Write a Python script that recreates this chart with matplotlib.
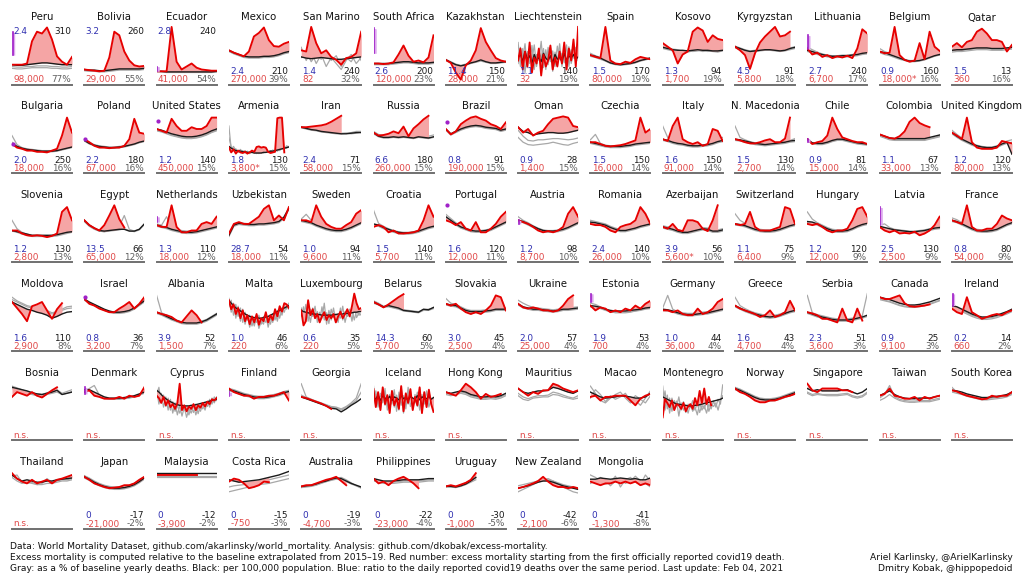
import numpy as np
import matplotlib
matplotlib.use("Agg")
import matplotlib.pyplot as plt

countries = ["Peru","Bolivia","Ecuador","Mexico","San Marino","South Africa","Kazakhstan","Liechtenstein","Spain","Kosovo","Kyrgyzstan","Lithuania","Belgium","Qatar",
"Bulgaria","Poland","United States","Armenia","Iran","Russia","Brazil","Oman","Czechia","Italy","N. Macedonia","Chile","Colombia","United Kingdom",
"Slovenia","Egypt","Netherlands","Uzbekistan","Sweden","Croatia","Portugal","Austria","Romania","Azerbaijan","Switzerland","Hungary","Latvia","France",
"Moldova","Israel","Albania","Malta","Luxembourg","Belarus","Slovakia","Ukraine","Estonia","Germany","Greece","Serbia","Canada","Ireland",
"Bosnia","Denmark","Cyprus","Finland","Georgia","Iceland","Hong Kong","Mauritius","Macao","Montenegro","Norway","Singapore","Taiwan","South Korea",
"Thailand","Japan","Malaysia","Costa Rica","Australia","Philippines","Uruguay","New Zealand","Mongolia"]

blue_txt = ["2.4","3.2","2.8","2.4","1.4","2.6","11.4","1.1","1.5","1.3","4.5","2.7","0.9","1.5",
"2.0","2.2","1.2","1.8","2.4","6.6","0.8","0.9","1.5","1.6","1.5","0.9","1.1","1.2",
"1.2","13.5","1.3","28.7","1.0","1.5","1.6","1.2","2.4","3.9","1.1","1.2","2.5","0.8",
"1.6","0.8","3.9","1.0","0.6","14.3","3.0","2.0","1.9","1.0","1.6","2.3","0.9","0.2",
"","","","","","","","","","","","","","",
"","0","0","0","0","0","0","0","0"]
black_txt = ["310","260","240","210","240","200","150","140","170","94","91","240","160","13",
"250","180","140","130","71","180","91","28","150","150","130","81","67","120",
"130","66","110","54","94","140","120","98","140","56","75","120","130","80",
"110","36","52","46","35","60","45","57","53","44","43","51","25","14",
"","","","","","","","","","","","","","",
"","-17","-12","-15","-19","-22","-30","-42","-41"]
red_txt = ["98,000","29,000","41,000","270,000","82","120,000","28,000","32","80,000","1,700","5,800","6,700","18,000*","360",
"18,000","67,000","450,000","3,800*","58,000","260,000","190,000","1,400","16,000","91,000","2,700","15,000","33,000","80,000",
"2,800","65,000","18,000","18,000","9,600","5,700","12,000","8,700","26,000","5,600*","6,400","12,000","2,500","54,000",
"2,900","3,200","1,500","220","220","5,700","2,500","25,000","700","36,000","4,700","3,600","9,100","660",
"n.s.","n.s.","n.s.","n.s.","n.s.","n.s.","n.s.","n.s.","n.s.","n.s.","n.s.","n.s.","n.s.","n.s.",
"n.s.","-21,000","-3,900","-750","-4,700","-23,000","-1,000","-2,100","-1,300"]
gray_txt = ["77%","55%","54%","39%","32%","23%","21%","19%","19%","19%","18%","17%","16%","16%",
"16%","16%","15%","15%","15%","15%","15%","15%","14%","14%","14%","14%","13%","13%",
"13%","12%","12%","11%","11%","11%","11%","10%","10%","10%","9%","9%","9%","9%",
"8%","7%","7%","6%","5%","5%","4%","4%","4%","4%","4%","3%","3%","2%",
"","","","","","","","","","","","","","",
"","-2%","-2%","-3%","-3%","-4%","-5%","-6%","-8%"]
top_labels = ["Peru", "Bolivia", "Ecuador"]

# weekly/monthly death curves (as share of panel height), 2020 in red, baseline black, past years gray
red = {
"Peru":[33,33,33,35,72,88,85,95,75,47,38,33,46],
"Bolivia":[25,24,23,22,23,45,88,82,55,40,32,30,31],
"Ecuador":[22,22,22,96,38,25,30,35,28,25,24,23,23],
"Mexico":[57,53,50,47,55,80,86,95,74,64,63,68,71],
"San Marino":[57,55,96,69,52,57,46,41,33,44,46,52,88],
"South Africa":[35,35,34,35,37,50,65,48,38,40,37,45,82],
"Kazakhstan":[41,36,20,8,32,40,57,94,71,57,44,40,38],
"Liechtenstein":[40,60,25,55,30,70,20,45,35,60,15,50,30,40,65,25,45,30,55,35,70,25,60,40,75,30,96],
"Spain":[49,46,44,96,40,35,34,38,36,42,46,44,42],
"Kosovo":[69,63,57,35,50,55,88,95,90,71,82,76,74],
"Kyrgyzstan":[63,57,49,26,52,70,80,88,96,80,82,88],
"Lithuania":[60,50,53,46,49,44,47,45,48,44,60,92,85],
"Belgium":[55,52,53,96,49,41,38,40,69,42,88,63,56],
"Qatar":[63,69,62,71,74,88,93,85,74,74,71,55,66],
"Bulgaria":[49,43,41,38,38,36,36,35,38,41,63,93,68],
"Poland":[57,52,46,43,43,42,43,43,46,57,91,68,66],
"United States":[74,71,68,91,79,71,71,77,74,74,79,93,93],
"Armenia":[43,35,40,33,38,35,34,36,33,35,38,36,44,45,43,44,43,36,34,35,36,92,93,93,35],
"Iran":[77,77,78,79,80,82,86,91,96],
"Russia":[68,63,64,66,70,67,78,62,75,82,90,96],
"Brazil":[74,65,70,82,88,93,95,91,88,82,79,74,85],
"Oman":[77,68,74,63,68,71,82,91,93,95,93,79,77],
"Czechia":[52,52,49,46,45,46,47,49,52,55,93,68,74],
"Italy":[57,54,79,93,57,52,49,52,46,49,74,71,54],
"N. Macedonia":[57,55,52,50,50,52,55,57,52,52,58,93],
"Chile":[57,49,52,54,63,93,74,60,57,54,52,52,49],
"Colombia":[65,62,59,58,62,70,86,93,84,80,77],
"United Kingdom":[68,63,57,93,52,43,41,41,41,43,54,52,50],
"Slovenia":[53,53,48,45,44,45,44,42,44,48,84,92,70],
"Egypt":[70,62,57,53,62,78,95,72,58],
"Netherlands":[62,59,59,95,59,50,50,53,53,64,67,64,76],
"Uzbekistan":[48,64,67,64,64,70,76,89,95,70,78,70,92],
"Sweden":[70,70,67,95,76,64,59,56,56,62,67,81,87],
"Croatia":[59,62,59,50,53,48,48,49,50,53,70,95,76],
"Portugal":[70,67,62,67,56,53,67,50,50,56,64,76,84],
"Austria":[70,67,64,59,53,50,52,50,53,59,81,92,76],
"Romania":[64,62,62,59,53,50,59,62,64,70,92,81,64],
"Azerbaijan":[59,56,64,54,52,70,70,67,56,52,70,95],
"Switzerland":[64,62,64,84,59,53,53,53,56,59,92,89,64],
"Hungary":[64,62,64,59,53,50,53,53,56,70,89,92,76],
"Latvia":[59,53,50,53,48,49,48,51,45,48,53,62,76],
"France":[70,67,64,95,59,53,53,56,56,64,78,73,70],
"Moldova":[82,72,62,50,75,78,82,68,54,70,80],
"Israel":[87,79,76,71,68,65,65,71,76,82,71,79,90],
"Albania":[65,62,60,57,51,48,58,68,60,48],
"Malta":[85,70,78,62,72,55,68,50,60,45,58,48,62,44,55,50,65,48,60,52,70,58,75,66,80,78,72],
"Luxembourg":[68,43,50,85,60,70,55,62,48,58,65,52,60,55,62,48,58,66,55,62,70,58,75,96,80,70,72],
"Belarus":[82,78,73,78,84,90,95],
"Slovakia":[79,76,79,71,65,62,65,62,68,76,93,90,68],
"Ukraine":[79,73,71,73,71,68,68,66,68,76,87,93],
"Estonia":[76,68,73,71,65,68,65,71,68,76,71,79,84],
"Germany":[68,68,65,68,62,60,60,71,62,65,71,82,87],
"Greece":[76,71,68,65,62,57,60,68,57,60,65,84,68],
"Serbia":[65,63,60,54,54,51,48,71,51,48,71,51],
"Canada":[90,87,87,90,93,80,75,74,75,76,78],
"Ireland":[71,65,62,90,65,60,54,57,60,62,60,65,68],
"Bosnia":[72,80,77,74,80,74,71,77,83,88],
"Denmark":[80,83,74,72,69,69,69,72,69,74,72,74,88],
"Cyprus":[74,70,62,72,58,66,55,60,52,62,94,50,58,48,56,52,60,50,58,54,62,56,64,60,68,66,70],
"Finland":[86,80,77,74,74,69,72,72,74,74,77,80,66],
"Georgia":[72,70,67,64,61,57,52],
"Iceland":[85,55,80,50,88,60,75,45,82,58,70,52,90,48,78,62,85,50,72,58,88,45,80,55,84,60,47],
"Hong Kong":[80,77,74,83,94,88,80,69,77,72,74,77],
"Mauritius":[86,80,74,80,77,83,83,94,91,86,83,80,83],
"Macao":[72,74,66,72,72,74,74,74,66,58,69,74,77],
"Montenegro":[38,68,62,55,66,50,60,58,52,62,48,56,60,52,70,58,82,62,86,60,72,58],
"Norway":[86,80,77,72,66,63,63,66,66,69,72,74,77],
"Singapore":[94,83,80,86,86,86,86,83,83,80],
"Taiwan":[74,77,86,74,72,69,69,72,66,72,69,72,74],
"South Korea":[83,81,77,74,72,70,68,69,74,72,74,74,80],
"Thailand":[93,84,79,76,82,76,79,82,76,82,84,87,90],
"Japan":[87,82,76,73,70,68,69,70,73,73,76,82,87],
"Malaysia":[90,90,90,90,90,90,90,90,90],
"Costa Rica":[79,84,82,76,68,70,73,79,78],
"Australia":[71,73,73,76,79,82,84,87,80,73],
"Philippines":[84,76,79,73,80,84,87,82,76,68],
"Uruguay":[71,73,71,74,77,82,93],
"New Zealand":[68,70,73,76,80,87,79,73,70,70,68,70,68],
"Mongolia":[79,76,73,76,76,79,76,79,76,79,73,76,73],
}

base = {
"Peru":[33,32,32,33,34,35,36,36,35,34,33,33,33],
"Bolivia":[25,24,24,23,23,24,25,26,26,26,26,26,27],
"Ecuador":[22,22,21,21,21,21,21,21,21,21,21,21,22],
"Mexico":[57,53,50,47,46,46,46,47,47,48,50,53,55],
"San Marino":[46,44,43,44,45,44,43,42,42,43,44,45,46],
"South Africa":[35,35,35,35,36,37,38,38,37,36,36,36,37],
"Kazakhstan":[41,37,33,31,33,36,38,41,38,36,36,37,38],
"Liechtenstein":[45,50,38,55,42,48,35,50,40,45,38,52,44,40,48,36,50,42,46,38,52,40,48,44,50,42,46],
"Spain":[49,47,44,40,36,34,33,34,35,37,40,42,44],
"Kosovo":[62,60,58,57,57,56,57,58,57,57,56,56,57],
"Kyrgyzstan":[63,60,57,55,56,57,58,58,57,56,57,60,62],
"Lithuania":[57,55,52,50,48,47,47,48,48,49,50,52,53],
"Belgium":[55,53,50,47,44,41,39,39,40,42,45,48,50],
"Qatar":[57,58,58,59,60,61,61,61,60,60,60,61,62],
"Bulgaria":[49,45,42,40,39,38,37,37,37,38,40,42,44],
"Poland":[55,50,47,45,44,43,43,44,45,47,49,52,54],
"United States":[74,72,69,66,64,62,61,61,62,64,67,71,74],
"Armenia":[45,42,40,38,38,37,36,36,35,35,35,34,34,34,34,35,35,36,37,37,38,39,40,41,42,43,44],
"Iran":[77,75,73,72,70,69,68,67,66,66,67,68,68],
"Russia":[68,62,60,60,61,60,61,60,59,61,60,59,61],
"Brazil":[74,66,70,74,77,79,80,79,77,76,75,72,74],
"Oman":[77,70,68,64,66,67,68,68,67,67,68,70,72],
"Czechia":[52,50,48,46,45,45,45,46,47,49,50,51,52],
"Italy":[57,55,52,50,49,47,46,46,47,48,50,53,55],
"N. Macedonia":[57,56,54,52,50,49,48,49,50,51,52,54,55],
"Chile":[57,51,50,50,52,55,57,57,55,53,51,50,49],
"Colombia":[65,62,59,58,58,58,58,58,58,58,60,62,64],
"United Kingdom":[68,62,57,53,49,46,44,43,43,45,49,52,32],
"Slovenia":[53,51,49,47,45,45,45,45,45,46,48,50,51],
"Egypt":[70,62,57,53,52,53,54,55,55,52,52,55,64],
"Netherlands":[62,60,58,55,53,51,50,50,51,53,55,57,59],
"Uzbekistan":[45,62,65,64,63,63,64,64,65,66,68,75,90],
"Sweden":[70,68,66,62,59,56,54,53,53,55,58,62,66],
"Croatia":[64,62,58,55,52,50,49,49,50,52,55,58,60],
"Portugal":[76,70,64,59,56,53,52,52,53,55,59,63,67],
"Austria":[70,68,64,60,56,53,52,52,53,55,58,62,66],
"Romania":[67,66,64,62,58,55,53,53,55,57,60,62,64],
"Azerbaijan":[59,57,55,52,50,50,52,54,56,55,52,52,54],
"Switzerland":[64,63,61,58,55,53,52,52,53,55,58,61,63],
"Hungary":[68,67,64,60,56,53,52,52,53,56,60,63,65],
"Latvia":[60,58,56,54,53,52,51,51,52,53,55,57,58],
"France":[70,68,64,60,56,53,52,52,53,55,59,63,66],
"Moldova":[82,78,74,70,68,65,63,60,55,58,62,65,66],
"Israel":[87,82,78,74,70,67,65,65,66,68,72,78,84],
"Albania":[65,62,58,54,51,48,47,47,47,49,52,57,62],
"Malta":[84,80,76,72,70,67,65,62,60,58,57,56,56,55,55,56,57,58,60,62,64,66,68,70,72,74,76],
"Luxembourg":[68,66,65,64,63,62,62,61,61,60,60,60,60,60,61,61,62,62,62,63,63,64,64,65,65,66,66],
"Belarus":[82,78,74,76,74,72,68,67,66,65,70,69,73],
"Slovakia":[79,77,76,72,68,66,66,66,67,68,70,70,70],
"Ukraine":[79,74,72,70,70,69,68,67,68,70,70,71,72],
"Estonia":[76,75,73,70,68,67,67,67,68,69,70,72,73],
"Germany":[70,69,67,64,62,61,61,62,63,64,66,68,70],
"Greece":[76,72,68,65,62,60,58,57,58,60,63,66,68],
"Serbia":[65,62,59,57,55,53,52,52,52,53,55,57,60],
"Canada":[90,88,86,83,80,78,77,77,78,80,82,85,88],
"Ireland":[76,74,70,66,62,59,57,57,58,60,63,66,70],
"Bosnia":[88,86,84,82,79,77,76,78,80,83,76,78,80],
"Denmark":[84,84,80,76,72,70,70,70,71,72,74,77,80],
"Cyprus":[83,80,76,72,69,66,64,62,60,59,58,58,57,57,57,58,58,59,60,61,62,63,64,65,66,67,68],
"Finland":[84,82,79,76,74,72,71,71,72,74,76,79,81],
"Georgia":[72,69,66,63,60,57,53,52,47,52,58,63,69],
"Iceland":[72,68,75,66,74,70,68,73,66,72,70,67,74,69,71,66,73,70,68,74,67,72,70,69,73,68,71],
"Hong Kong":[80,78,80,82,80,76,74,72,72,73,72,74,78],
"Mauritius":[86,80,78,80,82,82,83,88,86,83,80,78,82],
"Macao":[80,76,72,70,71,72,74,73,72,70,70,72,78],
"Montenegro":[72,70,68,66,64,62,60,60,59,58,58,57,57,57,58,58,59,60,61,62,63,64,65,66,67,68,70],
"Norway":[86,83,79,75,71,68,67,67,68,70,73,76,79],
"Singapore":[86,82,84,82,82,82,82,83,84,80,77,80,86],
"Taiwan":[74,78,82,76,72,70,69,69,70,70,70,72,74],
"South Korea":[83,82,80,77,75,73,71,71,72,73,74,76,80],
"Thailand":[90,84,80,82,80,78,78,80,80,82,83,84,85],
"Japan":[87,83,78,74,71,69,68,68,69,71,74,79,85],
"Malaysia":[94,94,94,94,94,94,94,94,94,94,94,94,94],
"Costa Rica":[82,80,78,79,80,81,82,84,86,88,90,93,96],
"Australia":[71,72,73,75,78,80,83,85,84,80,76,73,70],
"Philippines":[84,82,80,80,80,81,82,82,82,82,83,84,84],
"Uruguay":[71,71,70,72,75,80,86],
"New Zealand":[68,70,72,75,78,80,80,78,75,72,70,68,66],
"Mongolia":[83,83,85,84,83,84,85,84,83,84,82,82,85],
}

gray_a = {
"Peru":[27,26,26,27,28,28,28,28,27,27,26,26,27],
"Bolivia":[23,22,22,21,21,22,23,24,24,24,24,24,25],
"Ecuador":[21,21,20,20,20,20,20,20,20,20,20,20,21],
"Mexico":[55,51,48,45,44,44,44,45,45,46,48,51,53],
"San Marino":[62,40,55,35,50,30,45,35,25,40,50,35,45],
"South Africa":[33,33,33,33,34,35,36,36,35,34,34,34,35],
"Kazakhstan":[40,36,33,31,32,35,37,39,37,35,35,36,37],
"Liechtenstein":[70,30,60,20,55,35,65,25,50,40,72,28,58,33,62,22,54,38,68,30,57,26,63,35,52,40,48],
"Spain":[52,48,45,41,37,35,34,35,36,38,41,43,45],
"Kosovo":[64,61,59,58,55,57,55,56,58,55,57,55,58],
"Kyrgyzstan":[61,58,56,54,55,56,57,57,56,55,56,58,60],
"Lithuania":[62,58,54,51,49,48,48,49,49,50,51,53,55],
"Belgium":[60,55,52,48,45,42,40,40,41,43,46,49,52],
"Qatar":[54,55,55,56,57,58,58,58,57,57,57,58,59],
"Bulgaria":[63,48,43,41,40,39,38,38,38,39,41,43,45],
"Poland":[58,52,48,46,45,44,44,45,46,48,50,53,55],
"United States":[71,69,66,63,61,59,58,58,59,61,64,68,71],
"Armenia":[79,40,45,38,36,40,35,38,33,36,35,37,33,36,34,37,35,36,38,36,39,37,41,40,43,42,45],
"Iran":[76,74,72,71,69,68,67,66,66,67,68,70,70],
"Russia":[70,65,63,63,64,63,64,63,62,63,62,62,64],
"Brazil":[72,64,68,72,75,77,78,77,75,74,73,70,72],
"Oman":[72,62,55,54,56,56,57,58,58,57,56,57,59],
"Czechia":[56,65,50,47,46,46,46,47,48,50,52,53,54],
"Italy":[79,60,55,51,49,47,46,46,47,49,52,56,60],
"N. Macedonia":[79,60,56,53,51,50,49,50,51,52,53,55,58],
"Chile":[55,49,48,48,50,53,55,55,53,51,49,48,47],
"Colombia":[62,59,56,55,55,55,55,55,55,55,57,59,61],
"United Kingdom":[72,65,59,54,50,47,45,44,44,46,50,54,56],
"Slovenia":[70,56,50,47,45,44,44,44,45,46,48,51,53],
"Egypt":[68,60,55,52,51,53,55,60,78,55,52,55,63],
"Netherlands":[64,62,76,57,55,53,52,52,53,55,57,59,61],
"Uzbekistan":[43,60,63,62,61,61,62,62,63,64,66,73,88],
"Sweden":[72,80,70,64,60,57,55,54,54,56,59,63,67],
"Croatia":[87,65,60,56,53,51,50,50,51,53,56,59,62],
"Portugal":[80,73,66,60,57,54,53,53,54,56,60,64,69],
"Austria":[76,70,66,61,57,54,53,53,54,56,59,63,67],
"Romania":[70,68,66,64,60,57,55,55,57,59,62,64,66],
"Azerbaijan":[61,59,57,54,52,52,54,56,58,57,54,54,56],
"Switzerland":[81,70,65,60,57,55,54,54,55,57,60,63,65],
"Hungary":[84,72,66,62,58,55,54,54,55,58,62,65,67],
"Latvia":[62,64,58,55,54,53,52,52,53,54,56,58,60],
"France":[74,71,66,62,58,55,54,54,55,57,61,65,68],
"Moldova":[90,84,80,76,74,72,70,68,64,66,70,74,75],
"Israel":[85,80,76,72,68,65,63,63,64,66,70,76,82],
"Albania":[93,64,60,56,52,49,48,48,48,50,53,58,63],
"Malta":[88,65,80,55,75,50,70,45,60,40,55,42,58,38,50,45,62,40,55,48,65,50,70,60,75,70,80],
"Luxembourg":[72,55,78,50,70,58,75,48,65,55,80,45,68,52,72,50,60,55,75,48,65,58,70,52,68,60,62],
"Belarus":[84,80,75,75,73,71,69,68,67,66,69,70,72],
"Slovakia":[88,80,78,74,70,68,68,68,69,70,72,72,72],
"Ukraine":[85,80,76,73,72,71,70,69,70,72,72,73,74],
"Estonia":[80,78,74,70,66,64,64,64,65,67,69,71,73],
"Germany":[72,93,70,66,64,63,63,64,65,66,68,70,72],
"Greece":[90,76,71,67,64,62,60,59,60,62,65,68,70],
"Serbia":[93,64,61,59,57,55,54,54,54,55,57,59,96],
"Canada":[86,84,82,79,76,74,73,73,74,76,78,81,84],
"Ireland":[74,72,68,64,60,57,55,55,56,58,61,64,68],
"Bosnia":[86,83,80,78,76,74,73,76,78,80,76,78,81],
"Denmark":[82,86,91,75,71,69,69,69,70,71,73,76,79],
"Cyprus":[85,60,78,55,72,50,68,45,62,42,58,40,55,38,52,45,58,42,55,48,60,50,65,55,70,62,72],
"Finland":[86,84,81,78,76,74,73,73,74,76,78,81,83],
"Georgia":[94,72,68,65,62,59,56,55,52,56,62,70,94],
"Iceland":[90,60,78,52,85,58,70,48,80,55,75,50,88,45,72,60,82,52,76,56,86,48,78,58,80,62,70],
"Hong Kong":[76,74,76,78,76,72,70,68,68,69,68,70,74],
"Mauritius":[78,72,69,72,74,74,75,80,78,75,72,70,74],
"Macao":[90,78,66,62,70,76,80,70,62,66,58,70,82],
"Montenegro":[90,50,75,45,70,55,65,40,62,50,58,45,60,48,55,42,62,50,58,45,60,52,65,55,68,60,92],
"Norway":[88,85,81,77,73,70,69,69,70,72,75,78,81],
"Singapore":[80,76,78,76,76,76,76,77,78,74,72,74,80],
"Taiwan":[70,76,91,72,68,66,65,65,66,66,66,68,70],
"South Korea":[88,80,78,75,73,71,69,69,70,71,72,74,78],
"Thailand":[88,90,78,76,78,74,76,84,78,80,82,82,84],
"Japan":[89,85,80,76,73,71,70,70,71,73,76,81,87],
"Malaysia":[88,88,88,88,88,88,88,88,88,88,88,88,88],
"Costa Rica":[62,64,66,68,70,72,74,75,76,78,80,82,84],
"Australia":[69,70,71,73,76,79,82,84,86,82,77,72,68],
"Philippines":[82,80,78,78,78,79,80,80,80,80,81,82,82],
"Uruguay":[70,70,69,71,74,78,82],
"New Zealand":[62,66,70,74,78,82,84,80,75,70,66,62,60],
"Mongolia":[90,86,80,75,78,88,70,82,86,78,74,90,80],
}

gray_b = {
"Peru":[30,29,29,30,30,31,31,31,30,30,29,29,30],
"Bolivia":[24,23,23,22,22,23,24,25,25,25,25,25,26],
"Ecuador":[22,21,21,21,21,21,21,21,21,21,21,21,21],
"Mexico":[56,52,49,46,45,45,45,46,46,47,49,52,54],
"San Marino":[45,55,38,50,42,55,40,48,30,45,38,52,40],
"South Africa":[34,34,34,34,35,36,37,37,36,35,35,35,36],
"Kazakhstan":[42,38,34,32,34,37,39,42,39,37,37,38,39],
"Liechtenstein":[35,62,42,68,28,58,40,66,30,55,45,60,25,62,38,56,30,64,42,52,36,66,30,58,44,62,40],
"Spain":[47,45,42,39,35,33,32,33,34,36,39,41,43],
"Kosovo":[60,58,56,55,56,54,56,57,55,56,55,54,56],
"Kyrgyzstan":[64,61,58,56,57,58,59,59,58,57,58,61,63],
"Lithuania":[55,53,50,48,46,45,45,46,46,47,48,50,51],
"Belgium":[53,50,48,45,42,40,38,38,39,41,44,47,49],
"Qatar":[56,57,57,58,59,60,60,60,59,59,59,60,61],
"Bulgaria":[52,46,41,39,38,37,36,36,36,37,39,41,43],
"Poland":[54,49,46,44,43,42,42,43,44,46,48,51,53],
"United States":[72,70,67,64,62,60,59,59,60,62,65,69,72],
"Armenia":[60,44,38,41,35,37,38,34,37,33,36,34,36,33,37,34,36,35,36,39,37,40,38,42,41,46,44],
"Iran":[78,76,74,73,71,70,69,68,67,67,66,67,69],
"Russia":[66,61,59,59,60,59,60,59,58,60,59,58,60],
"Brazil":[73,65,69,73,76,78,79,78,76,75,74,71,73],
"Oman":[60,52,48,47,48,49,50,52,50,48,47,50,52],
"Czechia":[50,48,46,44,43,43,43,44,45,47,48,49,50],
"Italy":[55,53,50,48,47,45,44,44,45,46,48,51,53],
"N. Macedonia":[55,54,52,50,48,47,46,47,48,49,50,52,53],
"Chile":[56,50,49,49,51,54,56,56,54,52,50,49,48],
"Colombia":[63,60,57,56,56,56,56,56,56,56,58,60,62],
"United Kingdom":[66,60,55,51,47,44,42,41,41,43,47,50,52],
"Slovenia":[52,50,47,45,43,43,43,43,43,44,46,48,50],
"Egypt":[69,61,56,52,51,52,53,54,56,53,51,54,63],
"Netherlands":[60,58,56,53,51,49,48,48,49,51,53,55,57],
"Uzbekistan":[46,63,66,65,64,64,65,65,66,67,69,76,90],
"Sweden":[68,66,64,60,57,54,52,51,51,53,56,60,64],
"Croatia":[62,60,56,53,50,48,47,47,48,50,53,56,58],
"Portugal":[74,68,62,57,54,51,50,50,51,53,57,61,65],
"Austria":[68,66,62,58,54,51,50,50,51,53,56,60,64],
"Romania":[65,64,62,60,56,53,51,51,53,55,58,60,62],
"Azerbaijan":[57,55,53,50,48,48,50,52,54,53,50,50,52],
"Switzerland":[62,61,59,56,53,51,50,50,51,53,56,59,61],
"Hungary":[66,65,62,58,54,51,50,50,51,54,58,61,63],
"Latvia":[58,56,54,52,51,50,49,49,50,51,53,55,56],
"France":[68,66,62,58,54,51,50,50,51,53,57,61,64],
"Moldova":[86,82,78,74,72,70,68,66,62,64,68,71,72],
"Israel":[86,81,77,73,69,66,64,64,65,67,71,77,83],
"Albania":[63,60,56,52,49,46,45,45,45,47,50,55,60],
"Malta":[75,85,60,78,58,72,48,65,52,60,42,55,48,60,45,58,48,55,45,62,52,68,55,72,65,78,70],
"Luxembourg":[58,74,52,68,48,72,55,66,50,74,52,64,46,70,56,62,48,72,52,66,58,70,50,74,56,64,60],
"Belarus":[80,77,73,74,72,70,67,66,65,64,68,68,71],
"Slovakia":[77,75,74,70,66,64,64,64,65,66,68,68,68],
"Ukraine":[77,72,70,68,68,67,66,65,66,68,68,69,70],
"Estonia":[74,73,71,68,66,65,65,65,66,67,68,70,71],
"Germany":[68,67,65,62,60,59,59,60,61,62,64,66,68],
"Greece":[74,70,66,63,60,58,56,55,56,58,61,64,66],
"Serbia":[63,60,57,55,53,51,50,50,50,51,53,55,58],
"Canada":[87,85,83,80,77,75,74,74,75,77,79,82,85],
"Ireland":[72,70,66,62,58,55,53,53,54,56,59,62,66],
"Bosnia":[90,87,84,81,79,77,76,79,81,84,78,81,84],
"Denmark":[83,82,78,74,70,68,68,68,69,70,72,75,78],
"Cyprus":[70,88,62,75,56,70,50,64,48,58,45,55,50,52,42,56,46,60,44,58,52,62,56,68,60,72,66],
"Finland":[82,80,77,74,72,70,69,69,70,72,74,77,79],
"Georgia":[75,71,68,64,61,58,55,54,50,55,60,66,80],
"Iceland":[60,82,55,78,62,86,50,76,60,84,48,80,58,74,52,88,56,70,62,80,50,76,60,82,55,70,65],
"Hong Kong":[78,76,78,80,78,74,72,70,70,71,70,72,76],
"Mauritius":[74,68,66,70,71,72,72,76,75,72,70,68,70],
"Macao":[70,84,76,64,74,68,72,78,66,74,68,62,74],
"Montenegro":[60,82,52,70,48,66,56,72,50,64,46,60,54,66,50,62,46,58,52,64,48,60,56,62,50,66,74],
"Norway":[84,81,77,73,69,66,65,65,66,68,71,74,77],
"Singapore":[78,74,76,75,74,74,74,75,76,72,70,72,78],
"Taiwan":[66,70,76,70,66,64,63,63,64,64,64,66,68],
"South Korea":[80,78,76,73,71,69,67,67,68,69,70,72,76],
"Thailand":[86,80,76,78,76,74,74,76,76,78,80,80,82],
"Japan":[85,81,76,72,69,67,66,66,67,69,72,77,83],
"Malaysia":[86,86,86,86,86,86,86,86,86,86,86,86,86],
"Costa Rica":[70,72,73,74,75,76,78,80,82,84,86,88,90],
"Australia":[70,71,72,74,77,79,81,83,82,79,75,72,69],
"Philippines":[80,78,76,76,76,77,78,78,78,78,79,80,80],
"Uruguay":[72,72,71,73,77,81,85],
"New Zealand":[72,74,76,78,80,83,82,80,77,74,72,70,68],
"Mongolia":[76,80,86,82,72,80,84,76,80,88,80,76,70],
}

# reported covid-19 death marks at start (low, high)
purple = {
"Peru":(49,88),"Ecuador":(22,30),"South Africa":(52,94),"Lithuania":(60,82),
"Bulgaria":(49,49),"Poland":(57,57),"United States":(88,88),"Brazil":(85,85),
"Chile":(52,57),"Netherlands":(67,76),"Portugal":(95,95),"Austria":(64,70),
"Latvia":(62,92),"Israel":(90,90),"Estonia":(82,96),"Ireland":(76,96),
"Denmark":(77,88),"Finland":(74,80),
}
grid_n = {"Uruguay": 13}

footer_left = [
"Data: World Mortality Dataset, github.com/akarlinsky/world_mortality. Analysis: github.com/dkobak/excess-mortality.",
"Excess mortality is computed relative to the baseline extrapolated from 2015\u201319. Red number: excess mortality starting from the first officially reported covid19 death.",
"Gray: as a % of baseline yearly deaths. Black: per 100,000 population. Blue: ratio to the daily reported covid19 deaths over the same period. Last update: Feb 04, 2021",
]
footer_right = ["Ariel Karlinsky, @ArielKarlinsky", "Dmitry Kobak, @hippopedoid"]

W, H = 1024, 576
fig = plt.figure(figsize=(W / 100, H / 100), dpi=100)
fig.patch.set_facecolor("white")

C_RED = "#e60000"
C_FILL = "#f5a5a5"
C_BLUE = "#2f2fb0"
C_REDTXT = "#e04848"
C_GRAYTXT = "#606060"
C_BLK = "#1a1a1a"
C_GRAY = "#a8a8a8"
C_PURP = "#a020c8"
C_PURPF = "#dca8ec"

ncol = 14
pw, ph = 60, 60
for i, c in enumerate(countries):
    r, col = divmod(i, ncol)
    L = 12 + col * 72.3
    sp = 84.5 + r * 88.9
    ax = fig.add_axes([L / W, 1 - sp / H, pw / W, ph / H])
    ax.set_xlim(0, 1)
    ax.set_ylim(0, 100)
    ax.set_xticks([]); ax.set_yticks([])
    ax.patch.set_alpha(0)
    for s in ["top", "left", "right"]:
        ax.spines[s].set_visible(False)
    ax.spines["bottom"].set_color("#707070")
    ax.spines["bottom"].set_linewidth(1.4)

    b = base[c]
    n = grid_n.get(c, len(b))
    x = np.linspace(0, 1, n)
    for g in (gray_a[c], gray_b[c]):
        m = min(len(g), n)
        ax.plot(x[:m], g[:m], color=C_GRAY, lw=0.9, zorder=1)
    rd = red[c]
    m = min(len(rd), len(b), n)
    ax.fill_between(x[:m], rd[:m], b[:m], color=C_FILL, lw=0, zorder=2)
    mb = min(len(b), n)
    ax.plot(x[:mb], b[:mb], color=C_BLK, lw=1.0, zorder=3)
    ax.plot(x[:m], rd[:m], color=C_RED, lw=1.35, zorder=4)
    if c in purple:
        lo, hi = purple[c]
        if hi - lo < 1:
            ax.plot([0.015], [lo], "o", ms=2, color=C_PURP, zorder=5, clip_on=False)
        else:
            ax.fill_between([0.0, 0.045], [lo, lo], [hi, hi * 0.97 + lo * 0.03], color=C_PURPF, lw=0, zorder=5)
            ax.plot([0.01, 0.01], [lo, hi], color=C_PURP, lw=1.2, zorder=5)

    fig.text((L + pw / 2) / W, 1 - (sp - 67) / H, c, ha="center", va="center",
             fontsize=7.3, color="#111111")
    y1 = 52.5 / 60 if c in top_labels else 13 / 60
    y2 = 5 / 60
    fs = 6.4
    if blue_txt[i]:
        ax.text(0.02, y1, blue_txt[i], transform=ax.transAxes, ha="left", va="center",
                fontsize=fs, color=C_BLUE, zorder=6)
    if black_txt[i]:
        ax.text(0.99, y1, black_txt[i], transform=ax.transAxes, ha="right", va="center",
                fontsize=fs, color=C_BLK, zorder=6)
    if red_txt[i]:
        ax.text(0.02, y2, red_txt[i], transform=ax.transAxes, ha="left", va="center",
                fontsize=fs, color=C_REDTXT, zorder=6)
    if gray_txt[i]:
        ax.text(0.99, y2, gray_txt[i], transform=ax.transAxes, ha="right", va="center",
                fontsize=fs, color=C_GRAYTXT, zorder=6)

for k, t in enumerate(footer_left):
    fig.text(10 / W, 1 - (546.5 + 11 * k) / H, t, ha="left", va="center", fontsize=6.6, color="#111111")
for k, t in enumerate(footer_right):
    fig.text(1013 / W, 1 - (557.5 + 11 * k) / H, t, ha="right", va="center", fontsize=6.6, color="#111111")

fig.savefig("out.png", dpi=100)
